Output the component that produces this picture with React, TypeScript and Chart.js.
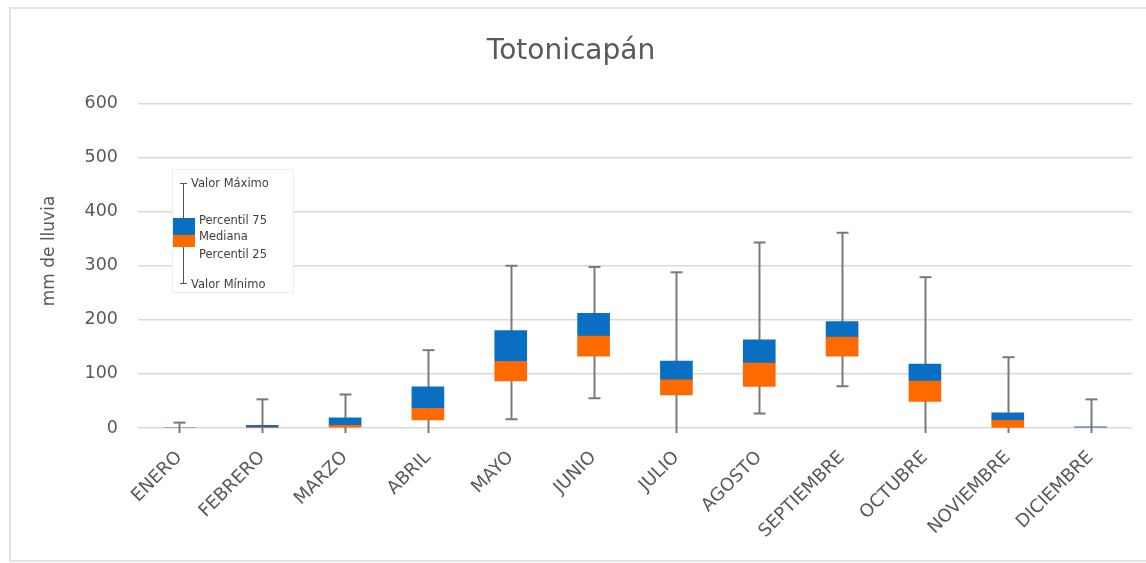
import React, { useEffect, useRef } from "react";
import { Chart, registerables } from "chart.js";

Chart.register(...registerables);

const months = ["ENERO", "FEBRERO", "MARZO", "ABRIL", "MAYO", "JUNIO", "JULIO", "AGOSTO", "SEPTIEMBRE", "OCTUBRE", "NOVIEMBRE", "DICIEMBRE"];
const minVals = [0, 0, 0, 0, 16, 55, 0, 27, 77, 0, 0, 0];
const q1Vals = [0, 0, 0, 15, 87, 133, 61, 77, 133, 49, 1, 0];
const medianVals = [0, 1, 5, 36, 123, 170, 89, 120, 168, 87, 14, 0];
const q3Vals = [0, 5, 19, 76, 180, 212, 124, 163, 197, 118, 28, 2];
const maxVals = [10, 53, 62, 144, 300, 298, 288, 343, 361, 279, 131, 53];
const yTicks = [0, 100, 200, 300, 400, 500, 600];

const FONT = "'DejaVu Sans', sans-serif";
const BLUE = "#0A6EC2";
const ORANGE = "#FF6A00";
const WHISKER = "#7a7a7a";
const TEXT = "#595959";

const framePlugin = {
  id: "frame",
  beforeDraw(chart: any) {
    const ctx = chart.ctx;
    ctx.save();
    ctx.fillStyle = "#ffffff";
    ctx.fillRect(0, 0, chart.width, chart.height);
    ctx.strokeStyle = "#e3e3e3";
    ctx.lineWidth = 2;
    ctx.strokeRect(10, 8, chart.width + 20, 553);
    ctx.translate(50, 251);
    ctx.rotate(-Math.PI / 2);
    ctx.fillStyle = TEXT;
    ctx.font = `17px ${FONT}`;
    ctx.textAlign = "center";
    ctx.textBaseline = "middle";
    ctx.fillText("mm de lluvia", 0, 0);
    ctx.restore();
  },
};

const whiskerPlugin = {
  id: "whiskers",
  beforeDatasetsDraw(chart: any) {
    const ctx = chart.ctx;
    const xs = chart.scales.x;
    const ys = chart.scales.y;
    ctx.save();
    ctx.strokeStyle = WHISKER;
    ctx.lineWidth = 2;
    months.forEach((_, i) => {
      const x = Math.round(xs.getPixelForValue(i)) + 0.5;
      const yMax = ys.getPixelForValue(maxVals[i]);
      const yMin = ys.getPixelForValue(minVals[i]);
      ctx.beginPath();
      ctx.moveTo(x, yMax);
      ctx.lineTo(x, minVals[i] > 0 ? yMin : yMin + 5);
      ctx.stroke();
      ctx.beginPath();
      ctx.moveTo(x - 6, yMax);
      ctx.lineTo(x + 6, yMax);
      if (minVals[i] > 0) {
        ctx.moveTo(x - 6, yMin);
        ctx.lineTo(x + 6, yMin);
      }
      ctx.stroke();
    });
    ctx.restore();
  },
};

const legendPlugin = {
  id: "boxLegend",
  afterDraw(chart: any) {
    const ctx = chart.ctx;
    ctx.save();
    ctx.fillStyle = "#ffffff";
    ctx.fillRect(172, 169, 121, 123);
    ctx.strokeStyle = "#eeeeee";
    ctx.lineWidth = 1;
    ctx.strokeRect(172.5, 169.5, 121, 123);
    ctx.strokeStyle = "#555555";
    ctx.lineWidth = 1;
    ctx.beginPath();
    ctx.moveTo(183.5, 183);
    ctx.lineTo(183.5, 284);
    ctx.moveTo(180, 183.5);
    ctx.lineTo(187, 183.5);
    ctx.moveTo(180, 283.5);
    ctx.lineTo(187, 283.5);
    ctx.stroke();
    ctx.fillStyle = BLUE;
    ctx.fillRect(173, 218, 22, 17);
    ctx.fillStyle = ORANGE;
    ctx.fillRect(173, 235, 22, 12);
    ctx.fillStyle = "#404040";
    ctx.font = `11.5px ${FONT}`;
    ctx.textBaseline = "middle";
    ctx.textAlign = "left";
    ctx.fillText("Valor Máximo", 191, 184);
    ctx.fillText("Percentil 75", 199, 221);
    ctx.fillText("Mediana", 199, 237);
    ctx.fillText("Percentil 25", 199, 255);
    ctx.fillText("Valor Mínimo", 191, 285);
    ctx.restore();
  },
};

export default function App() {
  const ref = useRef<HTMLCanvasElement>(null);
  useEffect(() => {
    if (!ref.current) return;
    const chart = new Chart(ref.current, {
      type: "bar",
      data: {
        labels: months,
        datasets: [
          {
            label: "Percentil 25 - Mediana",
            data: months.map((_, i) => [q1Vals[i], medianVals[i]] as [number, number]),
            backgroundColor: ORANGE,
            barThickness: 32,
            grouped: false,
            borderSkipped: false,
          } as any,
          {
            label: "Mediana - Percentil 75",
            data: months.map((_, i) => [medianVals[i], q3Vals[i]] as [number, number]),
            backgroundColor: BLUE,
            barThickness: 32,
            grouped: false,
            borderSkipped: false,
          } as any,
        ],
      },
      options: {
        animation: false,
        responsive: false,
        maintainAspectRatio: false,
        layout: { padding: { left: 10, right: 14, top: 0, bottom: 0 } },
        plugins: {
          legend: { display: false },
          tooltip: { enabled: false },
          title: {
            display: true,
            text: "Totonicapán",
            color: TEXT,
            font: { family: FONT, size: 28, weight: "normal", lineHeight: 1.2 },
            padding: { top: 35, bottom: 35 },
          },
        },
        scales: {
          x: {
            grid: { display: false },
            border: { display: false },
            ticks: {
              color: TEXT,
              font: { family: FONT, size: 18 },
              minRotation: 45,
              maxRotation: 45,
              padding: 11,
            },
            afterFit(scale: any) {
              scale.height = 135;
            },
          },
          y: {
            min: 0,
            max: 600,
            afterBuildTicks(scale: any) {
              scale.ticks = yTicks.map((v) => ({ value: v }));
            },
            grid: { color: "#d9d9d9", lineWidth: 1.5, drawTicks: false },
            border: { display: false },
            ticks: {
              color: TEXT,
              font: { family: FONT, size: 17.5 },
              padding: 20,
            },
            afterFit(scale: any) {
              scale.width = 128;
            },
          },
        },
      },
      plugins: [framePlugin, whiskerPlugin, legendPlugin],
    });
    return () => chart.destroy();
  }, []);
  return (
    <div style={{ position: "fixed", left: 0, top: 0, width: 1146, height: 563, background: "#fff" }}>
      <canvas ref={ref} width={1146} height={563} />
    </div>
  );
}
